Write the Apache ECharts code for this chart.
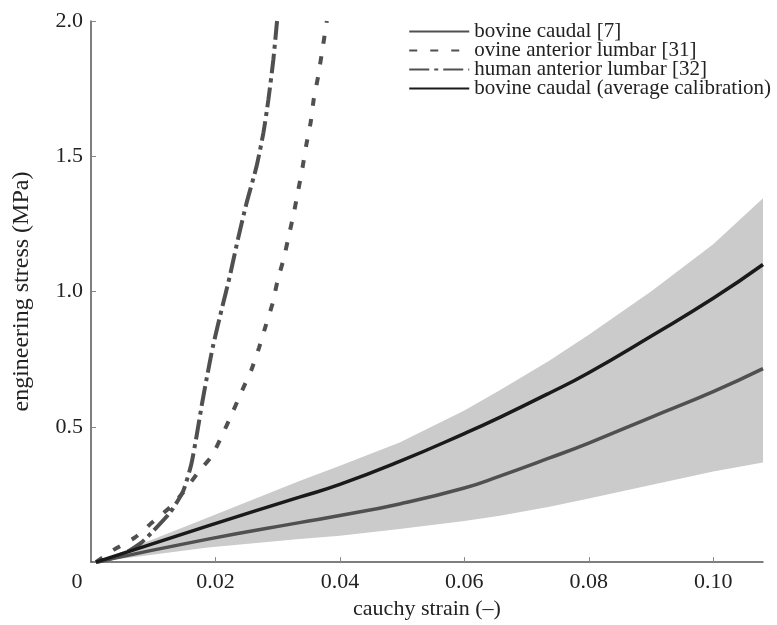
<!DOCTYPE html>
<html>
<head>
<meta charset="utf-8">
<script src="https://cdn.jsdelivr.net/npm/echarts@6/dist/echarts.min.js"></script>
<style>
html,body{margin:0;padding:0;background:#fff;}
#chart{width:777px;height:625px;}
</style>
</head>
<body>
<div id="chart"></div>
<script>
// ---- data ----
var seriesNames = ['bovine caudal [7]', 'ovine anterior lumbar [31]', 'human anterior lumbar [32]', 'bovine caudal (average calibration)'];

var bandStrain = [0.0008, 0.0188, 0.0335, 0.04, 0.0496, 0.06, 0.0657, 0.0737, 0.08, 0.09, 0.10, 0.108];
var bovineCaudal = [0, 0.085, 0.146, 0.172, 0.215, 0.274, 0.318, 0.385, 0.44, 0.535, 0.63, 0.715];
var bovineAverage = [0, 0.134, 0.24, 0.287, 0.372, 0.475, 0.535, 0.625, 0.70, 0.835, 0.975, 1.10];
var bandUpper = [0, 0.165, 0.300, 0.356, 0.442, 0.560, 0.635, 0.745, 0.84, 1.0, 1.175, 1.345];
var bandLower = [0, 0.054, 0.085, 0.097, 0.122, 0.152, 0.171, 0.205, 0.235, 0.285, 0.335, 0.368];

var ovineStrain = [0.0008, 0.0036, 0.007, 0.010, 0.0127, 0.0148, 0.0172, 0.0194, 0.0212, 0.0228, 0.0243, 0.0258, 0.027, 0.0281, 0.0292, 0.030, 0.031, 0.0318, 0.0326, 0.0333, 0.034, 0.0346, 0.0353, 0.0358, 0.0365, 0.0371, 0.0379];
var ovineStress = [0, 0.045, 0.09, 0.15, 0.203, 0.257, 0.331, 0.392, 0.475, 0.556, 0.635, 0.712, 0.792, 0.875, 0.958, 1.042, 1.124, 1.207, 1.29, 1.374, 1.459, 1.542, 1.625, 1.711, 1.795, 1.881, 2.0];

var humanStrain = [0.0008, 0.003, 0.0057, 0.008, 0.010, 0.0127, 0.0148, 0.0161, 0.0170, 0.0178, 0.0186, 0.0196, 0.021, 0.0223, 0.0236, 0.025, 0.0266, 0.0277, 0.0285, 0.0293, 0.0299];
var humanStress = [0, 0.012, 0.036, 0.07, 0.115, 0.183, 0.262, 0.36, 0.47, 0.58, 0.68, 0.798, 0.934, 1.056, 1.192, 1.327, 1.462, 1.586, 1.708, 1.856, 2.0];

var xTickValues = [0.02, 0.04, 0.06, 0.08, 0.10];
var xLabelValues = [0, 0.02, 0.04, 0.06, 0.08, 0.10];
var yLabelValues = [0.5, 1.0, 1.5, 2.0];

function pairs(xs, ys) { return xs.map(function (x, i) { return [x, ys[i]]; }); }

var FONT = '"Liberation Serif", "Times New Roman", serif';
var GREY = '#505050';
var BLACK = '#1a1a1a';
var TEXT = '#222222';

function renderBand(params, api) {
  if (params.dataIndex !== 0) { return null; }
  var pts = [];
  for (var i = 0; i < bandStrain.length; i++) {
    pts.push(api.coord([bandStrain[i], bandUpper[i]]));
  }
  for (var j = bandStrain.length - 1; j >= 0; j--) {
    pts.push(api.coord([bandStrain[j], bandLower[j]]));
  }
  return {
    type: 'polygon',
    shape: { points: pts },
    style: { fill: '#cbcbcb', stroke: null }
  };
}

var chart = echarts.init(document.getElementById('chart'));
chart.setOption({
  animation: false,
  backgroundColor: '#ffffff',
  textStyle: { fontFamily: FONT },
  grid: { left: 91, right: 14, top: 21, bottom: 62, containLabel: false },
  legend: {
    data: seriesNames,
    orient: 'vertical',
    right: 1,
    top: 16,
    align: 'left',
    itemWidth: 60,
    itemHeight: 12,
    itemGap: -2,
    itemStyle: { opacity: 0 },
    textStyle: { fontFamily: FONT, fontSize: 21, color: TEXT, lineHeight: 19 }
  },
  xAxis: {
    type: 'value',
    min: 0,
    max: 0.108,
    interval: 0.02,
    name: 'cauchy strain (–)',
    nameLocation: 'middle',
    nameGap: 33,
    nameTextStyle: { fontFamily: FONT, fontSize: 22, color: TEXT },
    axisLine: { lineStyle: { color: '#555', width: 1.5 } },
    axisTick: { inside: true, length: 5, customValues: xTickValues, lineStyle: { color: '#888' } },
    axisLabel: {
      customValues: xLabelValues,
      fontFamily: FONT, fontSize: 22, color: TEXT, margin: 9,
      formatter: function (v) { return v === 0 ? '{z|0}' : v.toFixed(2); },
      rich: { z: { fontFamily: FONT, fontSize: 22, color: TEXT, padding: [0, 28, 0, 0] } }
    },
    splitLine: { show: false }
  },
  yAxis: {
    type: 'value',
    min: 0,
    max: 2,
    interval: 0.5,
    name: 'engineering stress (MPa)',
    nameLocation: 'middle',
    nameGap: 57,
    nameTextStyle: { fontFamily: FONT, fontSize: 24, color: TEXT },
    axisLine: { show: true, lineStyle: { color: '#555', width: 1.5 } },
    axisTick: { show: true, inside: true, length: 5, customValues: yLabelValues, lineStyle: { color: '#888' } },
    axisLabel: {
      customValues: yLabelValues,
      fontFamily: FONT, fontSize: 22, color: TEXT, margin: 8,
      formatter: function (v) { return v.toFixed(1); }
    },
    splitLine: { show: false }
  },
  series: [
    {
      name: 'band', type: 'custom', silent: true, z: 1,
      renderItem: renderBand,
      data: pairs(bandStrain, bandUpper)
    },
    {
      name: seriesNames[0], type: 'line', symbol: 'none', showSymbol: false,
      smooth: 0.5,
      data: pairs(bandStrain, bovineCaudal),
      color: GREY,
      lineStyle: { color: GREY, width: 3.5 }, z: 3
    },
    {
      name: seriesNames[1], type: 'line', symbol: 'none', showSymbol: false,
      smooth: 0.2,
      data: pairs(ovineStrain, ovineStress),
      color: GREY,
      lineStyle: { color: GREY, width: 4, type: [8, 13] }, z: 3
    },
    {
      name: seriesNames[2], type: 'line', symbol: 'none', showSymbol: false,
      smooth: 0.2,
      data: pairs(humanStrain, humanStress),
      color: GREY,
      lineStyle: { color: GREY, width: 4, type: [20, 5, 4, 5] }, z: 3
    },
    {
      name: seriesNames[3], type: 'line', symbol: 'none', showSymbol: false,
      smooth: 0.5,
      data: pairs(bandStrain, bovineAverage),
      color: BLACK,
      lineStyle: { color: BLACK, width: 3.5 }, z: 4
    }
  ]
});
</script>
</body>
</html>
